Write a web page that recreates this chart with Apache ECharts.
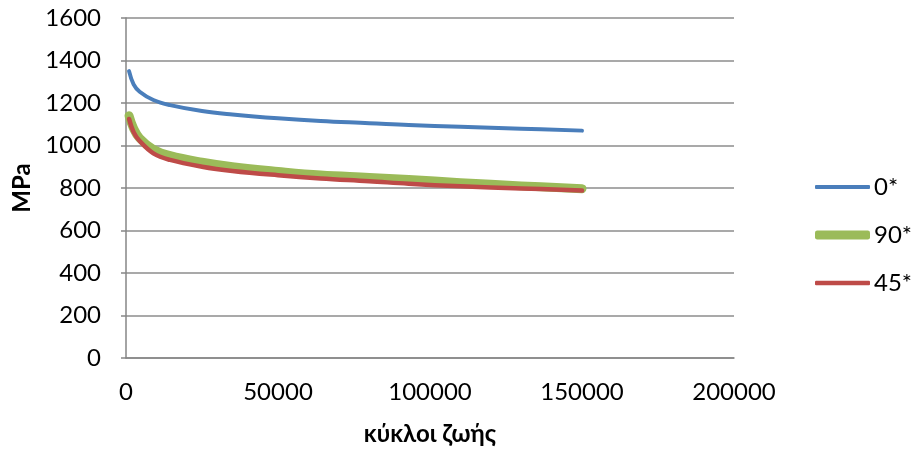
<!DOCTYPE html>
<html>
<head>
<meta charset="utf-8">
<script src="https://cdn.jsdelivr.net/npm/echarts@6/dist/echarts.min.js"></script>
<style>
  html, body { margin: 0; padding: 0; background: #fff; }
  #chart { width: 916px; height: 451px; }
</style>
</head>
<body>
<div id="chart"></div>
<script>
// Fatigue life (cycles) against stress amplitude for three fibre orientations
const cycles = [1000, 2500, 4500, 9000, 14500, 25000, 35000, 50000, 64000, 80000, 93000, 110000, 130000, 150000];
const stress0 = [1350, 1288, 1253, 1214, 1190, 1162, 1146, 1128, 1115, 1105, 1096, 1088, 1079, 1070];
const stress90 = [1140, 1080, 1034, 982, 952, 921, 900, 878, 861, 850, 840, 825, 810, 797];
const stress45 = [1125, 1063, 1021, 963, 932, 900, 880, 860, 845, 832, 820, 808, 798, 788];

const xTicks = [0, 50000, 100000, 150000, 200000];
const yTicks = [0, 200, 400, 600, 800, 1000, 1200, 1400, 1600];

const seriesNames = ['0*', '90*', '45*'];
const seriesColors = ['#4a7ebb', '#9bbb59', '#be4b48'];
const seriesWidths = [4, 9, 4.5];
const seriesData = [stress0, stress90, stress45];

const FONT = 'Lato, "Open Sans", sans-serif';
const FS = 24;

const chart = echarts.init(document.getElementById('chart'), null, { renderer: 'canvas' });

const pairs = arr => cycles.map((c, i) => [c, arr[i]]);

// one legend block per series so each key line keeps its own thickness
const legendCentres = [187, 235, 283];
const legends = seriesNames.map((name, i) => ({
  orient: 'vertical',
  left: 815,
  top: legendCentres[i] - 13,
  itemWidth: 55,
  itemHeight: seriesWidths[i],
  icon: 'roundRect',
  padding: 0,
  itemGap: 0,
  textStyle: { fontSize: FS, color: '#000', fontFamily: FONT, lineHeight: 26, padding: [0, 0, 0, -1] },
  data: [name]
}));

chart.setOption({
  animation: false,
  backgroundColor: '#ffffff',
  textStyle: { fontFamily: FONT },
  grid: { left: 126, right: 182, top: 18, bottom: 93, containLabel: false },
  legend: legends,
  xAxis: {
    type: 'value',
    min: xTicks[0],
    max: xTicks[xTicks.length - 1],
    interval: xTicks[1] - xTicks[0],
    name: 'κύκλοι ζωής',
    nameLocation: 'middle',
    nameGap: 64,
    nameTextStyle: { fontSize: FS, fontWeight: 'bold', color: '#000', fontFamily: FONT },
    axisLine: { lineStyle: { color: '#868686', width: 1.5 } },
    axisTick: { show: false },
    splitLine: { show: false },
    axisLabel: { fontSize: FS, color: '#000', margin: 22, fontFamily: FONT, formatter: v => String(v) }
  },
  yAxis: {
    type: 'value',
    min: yTicks[0],
    max: yTicks[yTicks.length - 1],
    interval: yTicks[1] - yTicks[0],
    name: 'MPa',
    nameLocation: 'middle',
    nameGap: 88,
    nameRotate: 90,
    nameTextStyle: { fontSize: FS, fontWeight: 'bold', color: '#000', fontFamily: FONT },
    axisLine: { show: true, lineStyle: { color: '#868686', width: 1.5 } },
    axisTick: { show: true, inside: false, length: 5, lineStyle: { color: '#868686', width: 1.5 } },
    splitLine: { show: true, lineStyle: { color: '#8c8c8c', width: 1.5 } },
    axisLabel: { fontSize: FS, color: '#000', margin: 25, fontFamily: FONT, formatter: v => String(v) }
  },
  series: seriesNames.map((name, i) => ({
    name: name,
    type: 'line',
    data: pairs(seriesData[i]),
    smooth: 0.4,
    showSymbol: false,
    symbol: 'none',
    color: seriesColors[i],
    lineStyle: { color: seriesColors[i], width: seriesWidths[i], cap: 'round', join: 'round' },
    z: i === 2 ? 3 : 2
  }))
});
</script>
</body>
</html>
